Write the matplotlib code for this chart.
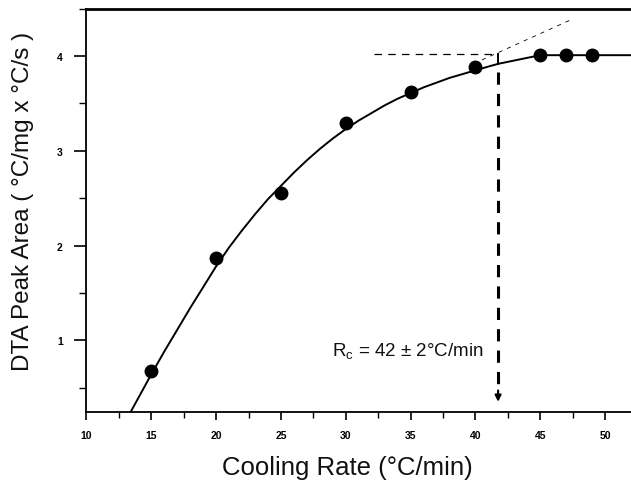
import numpy as np
import matplotlib
matplotlib.use('Agg')
import matplotlib.pyplot as plt
from matplotlib.ticker import MultipleLocator

plt.rcParams['font.family'] = ['Liberation Sans', 'DejaVu Sans']

# measured points
rate = [15, 20, 25, 30, 35, 40, 45, 47, 49]
area = [0.68, 1.87, 2.55, 3.29, 3.62, 3.88, 4.01, 4.01, 4.01]

# fitted curve
fit_x = [13.4, 14, 15, 16, 17, 18, 19, 20, 21, 22, 23, 24, 25, 26, 27, 28, 29, 30,
         31, 32, 33, 34, 35, 36, 37, 38, 39, 40, 41, 41.8, 45, 52]
fit_y = [0.24, 0.39, 0.64, 0.88, 1.11, 1.34, 1.56, 1.78, 1.98, 2.16, 2.33, 2.49, 2.63,
         2.77, 2.90, 3.02, 3.13, 3.23, 3.32, 3.40, 3.48, 3.55, 3.61, 3.67, 3.72, 3.77,
         3.81, 3.85, 3.89, 3.92, 4.01, 4.01]

# construction lines
rc = 41.75
plateau = 4.02
hline_x = [32.2, rc]
tangent_x = [40.5, 47.3]
tangent_y = [3.96, 4.38]

fig = plt.figure(figsize=(6.31, 4.89), dpi=100)
ax = fig.add_axes([0.137, 0.155, 0.863, 0.825])

ax.plot(fit_x, fit_y, color='black', linewidth=1.4, zorder=3)
ax.plot(rate, area, 'o', color='black', markersize=9, zorder=4)

ax.plot(hline_x, [plateau, plateau], color='black', linestyle=(0, (6, 5)), linewidth=0.9)
ax.plot(tangent_x, tangent_y, color='black', linestyle=(0, (5, 6)), linewidth=0.6)
ax.plot([rc, rc], [plateau, 3.92], color='black', linewidth=1.4)
ax.plot([rc, rc], [3.83, 0.47], color='black', linestyle=(0, (4, 3)), linewidth=2.2)
ax.annotate('', xy=(rc, 0.35), xytext=(rc, 0.47),
            arrowprops=dict(arrowstyle='-|>', color='black', lw=1.5,
                            mutation_scale=9, shrinkA=0, shrinkB=0))

ax.text(34.8, 0.89, 'R$_\\mathregular{c}$ = 42 ± 2°C/min', fontsize=13.5,
        ha='center', va='center', color='#111111')

ax.set_xlim(10, 52)
ax.set_ylim(0.24, 4.5)
ax.xaxis.set_major_locator(MultipleLocator(5))
ax.xaxis.set_minor_locator(MultipleLocator(2.5))
ax.yaxis.set_major_locator(MultipleLocator(1))
ax.yaxis.set_minor_locator(MultipleLocator(0.5))

ax.tick_params(axis='x', which='major', direction='out', length=6, width=1.2,
               labelsize=7.5, pad=7)
ax.tick_params(axis='x', which='minor', direction='out', length=4, width=1)
ax.tick_params(axis='y', which='major', direction='out', length=9, width=1.2,
               labelsize=7.5, pad=8)
ax.tick_params(axis='y', which='minor', direction='out', length=5, width=1)
for lab in ax.get_xticklabels() + ax.get_yticklabels():
    lab.set_fontweight('bold')

ax.spines['right'].set_visible(False)
ax.spines['top'].set_linewidth(2)
ax.spines['left'].set_linewidth(1.3)
ax.spines['bottom'].set_linewidth(1.3)

ax.set_xlabel('Cooling Rate (°C/min)', fontsize=18.5, color='#111111')
ax.xaxis.set_label_coords(0.48, -0.105)
ax.set_ylabel('DTA Peak Area ( °C/mg x °C/s )', fontsize=17.5, color='#111111')
ax.yaxis.set_label_coords(-0.097, 0.525)

fig.savefig('out.png', dpi=100)
